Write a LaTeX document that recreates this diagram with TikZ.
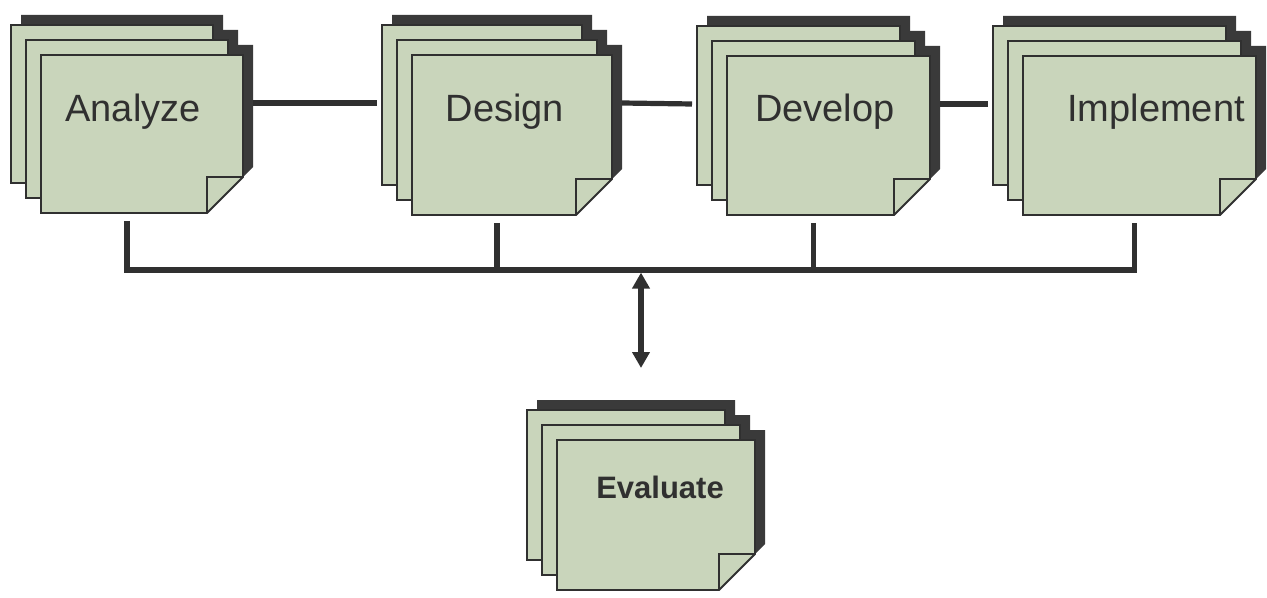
\documentclass[tikz,border=0pt]{standalone}
\usepackage{fontspec}
\setmainfont{Liberation Sans}
\usetikzlibrary{arrows.meta}

\definecolor{sheetgreen}{RGB}{201,213,187}
\definecolor{shadowgray}{RGB}{58,58,58}
\definecolor{inkgray}{RGB}{48,48,48}

\tikzset{sheet/.style={draw=inkgray,fill=sheetgreen,line width=0.9pt,line join=miter}}
\tikzset{sheetshade/.style={fill=shadowgray}}
\tikzset{stage/.style={text=inkgray,anchor=base,inner sep=0pt,font=\fontsize{19}{23}\selectfont}}
\tikzset{link/.style={draw=inkgray,line width=2.6pt}}
\tikzset{>={Triangle[length=8pt,width=8.5pt]}}

% outline of a sheet with a turned-down corner: left, top, width, height
\newcommand{\sheetoutline}[4]{(#1,#2) -- ++(#3,0) -- ++(0,#4-36) -- ++(-36,36) -- ++(36-#3,0) -- cycle}

% three sheets, their shadow, and the points the links attach to:
% name, left, top, width, height
\newcommand{\pagestack}[5]{%
  \foreach \k in {0,1,2}
    \fill[sheetshade] \sheetoutline{#2+15*\k+10}{#3+15*\k-10}{#4}{#5};
  \foreach \k in {0,1,2}{
    \path[sheet] \sheetoutline{#2+15*\k}{#3+15*\k}{#4}{#5};
    \draw[sheet,fill=none] (#2+15*\k+#4-36,#3+15*\k+#5) -- ++(0,-36) -- ++(36,0);
  }
  \coordinate (#1-in) at (#2-5,#3+78);
  \coordinate (#1-out) at (#2+#4+40,#3+78);
  \coordinate (#1-drop) at (#2+15+#4/2,#3+#5+38);
  \coordinate (#1-top) at (#2+15+#4/2,#3-42);
}

\begin{document}
\begin{tikzpicture}[x=0.5pt,y=-0.5pt]
      \useasboundingbox (0,0) rectangle (1267,598);

      \pagestack{analyze}{11}{25}{202}{158}
      \pagestack{design}{382}{25}{200}{160}
      \pagestack{develop}{697}{26}{203}{159}
      \pagestack{implement}{993}{26}{233}{159}
      \pagestack{evaluate}{527}{410}{198}{150}

      \node[stage] (analyze) at (133,122) {Analyze};
      \node[stage] (design) at (505,122) {Design};
      \node[stage] (develop) at (825,122) {Develop};
      \node[stage] (implement) at (1156,122) {Implement};
      \node[stage,font=\fontsize{15.5}{18}\selectfont\bfseries] (evaluate) at (660,498) {Evaluate};

      \coordinate (bus) at (643,270);

      \foreach \a/\b in {analyze/design,design/develop,develop/implement}
        \draw[link] (\a-out) -- (\b-in);
      \draw[link] (analyze-drop) |- ([xshift=5pt]implement-drop |- bus) -- ([xshift=5pt]implement-drop);
      \foreach \s in {design,develop}
        \draw[link] (\s-drop) -- (\s-drop |- bus);
      \draw[link,<->,shorten <=1.3pt] (evaluate-top |- bus) -- (evaluate-top);
    \end{tikzpicture}
\end{document}
